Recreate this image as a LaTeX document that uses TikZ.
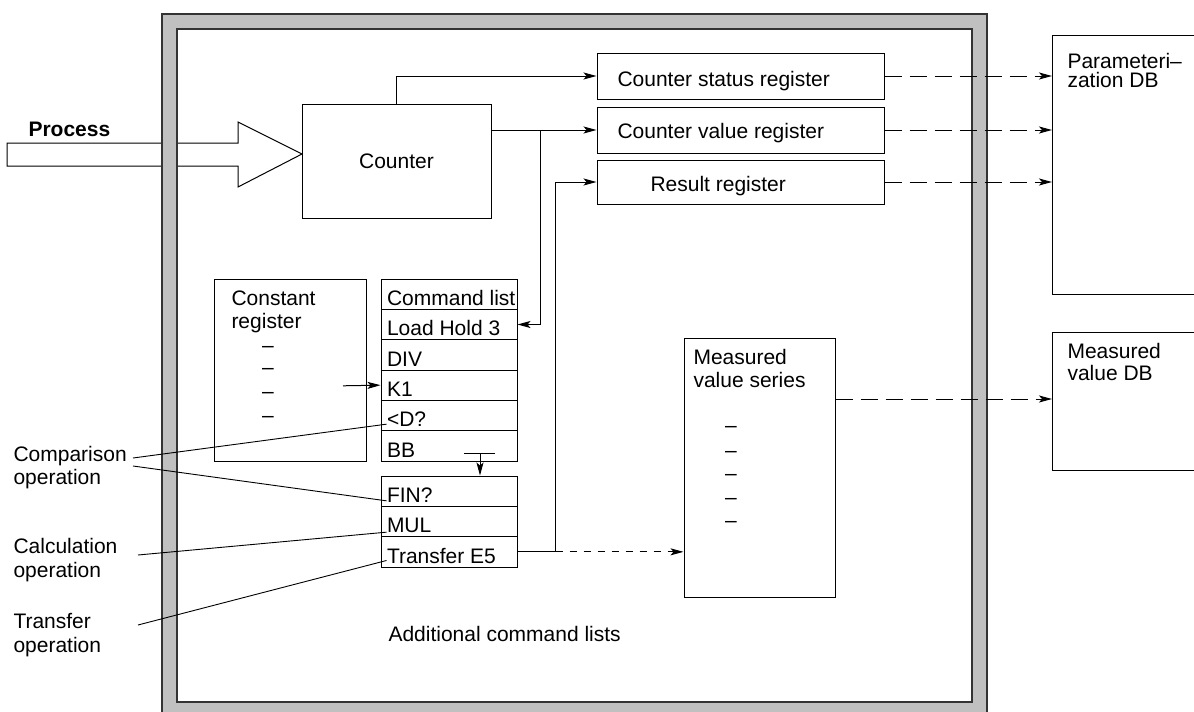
\documentclass[tikz,border=0pt]{standalone}
\usepackage{fontspec}
\setmainfont{Liberation Sans}
\usetikzlibrary{arrows.meta,calc}
\definecolor{framegray}{HTML}{C0C0C0}
\begin{document}
\begin{tikzpicture}[x=1pt,y=-1pt, line width=1pt,
  every node/.style={font=\fontsize{21}{23}\selectfont, inner sep=0pt},
  box/.style={draw, rectangle, inner sep=0pt, line width=1pt},
  arr/.style={-{Stealth[length=13pt,width=7pt,inset=3pt]}},
  longdash/.style={dash pattern=on 17pt off 8pt},
  shortdash/.style={dash pattern=on 7pt off 7pt},
  lbl/.style={anchor=base west},
  dashmark/.style={anchor=base},
  row/.style={box, minimum width=136pt, minimum height=30.33pt},
  leader/.style={line width=0.9pt}
]
\useasboundingbox (0,0) rectangle (1194,712);
\clip (0,0) rectangle (1194,712);

% Process arrow (under the frame)
\draw[fill=white, line width=1pt] (7,143) -- (238,143) -- (238,122) -- (302,154) -- (238,187) -- (238,166) -- (7,166) -- cycle;
\node[lbl, font=\bfseries\fontsize{21}{23}\selectfont] (proc) at (28,136) {Process};

% gray frame
\fill[framegray, even odd rule] (162,14) rectangle (987,725) (177,29) rectangle (972,702);
\draw[line width=1.2pt, black!80] (162,14) rectangle (987,725);
\draw[line width=1.2pt, black!80] (177,29) rectangle (972,702);

% Counter
\node[box, minimum width=189pt, minimum height=114pt] (counter) at (396.5,161) {Counter};

% registers
\node[box, minimum width=287pt, minimum height=46pt] (status) at (740.5,76) {};
\node[box, minimum width=287pt, minimum height=46pt] (value) at (740.5,130) {};
\node[box, minimum width=287pt, minimum height=44pt] (result) at (740.5,182) {};
\node[lbl] (statusT) at (617,86) {Counter status register};
\node[lbl] (valueT) at (617,138) {Counter value register};
\node[lbl] (resultT) at (650,191) {Result register};

% DB boxes (extend past right edge)
\node[box, minimum width=200pt, minimum height=259pt, anchor=north west] (pdb) at (1052,35) {};
\node[lbl] (pdbT1) at (1067,68) {Parameteri–};
\node[lbl] (pdbT2) at (1067,87) {zation DB};
\node[box, minimum width=200pt, minimum height=138pt, anchor=north west] (mdb) at (1052,332) {};
\node[lbl] (mdbT1) at (1067,358) {Measured};
\node[lbl] (mdbT2) at (1067,380) {value DB};

% Constant register
\node[box, minimum width=152pt, minimum height=182pt] (const) at (290,370) {};
\node[lbl] (constT1) at (231,305) {Constant};
\node[lbl] (constT2) at (231,328) {register};
\foreach \yy [count=\k] in {347,369,393,417}
  \node[dashmark] (cd\k) at (268,\yy+5.7) {–};

% Command list
\foreach \i/\t in {0/Command list,1/Load Hold 3,2/DIV,3/K1,4/<D?,5/BB}{
  \node[row] (cl\i) at (449,{279+30.333*\i+15.167}) {};
  \node[lbl] (clT\i) at ($(cl\i.south west)+(6,-4.5)$) {\t};
}
\foreach \i/\t in {0/FIN?,1/MUL,2/Transfer E5}{
  \node[row] (cm\i) at (449,{476+30.333*\i+15.167}) {};
  \node[lbl] (cmT\i) at ($(cm\i.south west)+(6,-4.5)$) {\t};
}

% Measured value series
\node[box, minimum width=151pt, minimum height=259pt] (mvs) at (759.5,467.5) {};
\node[lbl] (mvsT1) at (693,364) {Measured};
\node[lbl] (mvsT2) at (693,387) {value series};
\foreach \yy [count=\k] in {427,452,475,499,522}
  \node[dashmark] (md\k) at (731,\yy+5.7) {–};

\node[lbl] (addT) at (388,641) {Additional command lists};

% side labels
\node[lbl] (cmpT1) at (13,461) {Comparison};
\node[lbl] (cmpT2) at (13,484) {operation};
\node[lbl] (calT1) at (13,553) {Calculation};
\node[lbl] (calT2) at (13,577) {operation};
\node[lbl] (trfT1) at (13,628) {Transfer};
\node[lbl] (trfT2) at (13,652) {operation};

% connectors
\draw[arr] (counter.north) |- (status.west);
\draw[arr] (counter.east |- value.west) -- (value.west);
\coordinate (j1) at (540,130);
\draw[arr] (j1) |- (cl1.east);
\coordinate (j2) at ($(cm2.east)+(38,0)$);
\draw (cm2.east) -- (j2);
\draw[arr] (j2) |- (result.west);
\draw[arr, shortdash] (j2) -- (mvs.west |- j2);

\coordinate (ks) at (343,385.8);
\draw[arr] (ks) -- (cl3.west);

\coordinate (bbT) at (480,453);
\draw ($(bbT)+(-16,0)$) -- ($(bbT)+(15,0)$);
\draw[arr] (bbT) -- (cm0.north -| bbT);

\draw[arr, longdash] (status.east) -- (status.east -| pdb.west);
\draw[arr, longdash] (value.east) -- (value.east -| pdb.west);
\draw[arr, longdash] (result.east) -- (result.east -| pdb.west);
\coordinate (mvsOut) at (mvs.east |- 0,399);
\draw[arr, longdash] (mvsOut) -- (mvsOut -| mdb.west);

% leader lines
\coordinate (cmpA) at (133,458);
\coordinate (cmpB) at (133,466);
\coordinate (calA) at (138,555);
\coordinate (trfA) at (138,625);
\draw[leader] (cmpA) -- ($(cl4.south west)+(6,-7)$);
\draw[leader] (cmpB) -- ($(cm0.south west)+(6,-6)$);
\draw[leader] (calA) -- ($(cm1.south west)+(6,-5)$);
\draw[leader] (trfA) -- ($(cm2.south west)+(6,-7)$);
\end{tikzpicture}
\end{document}
